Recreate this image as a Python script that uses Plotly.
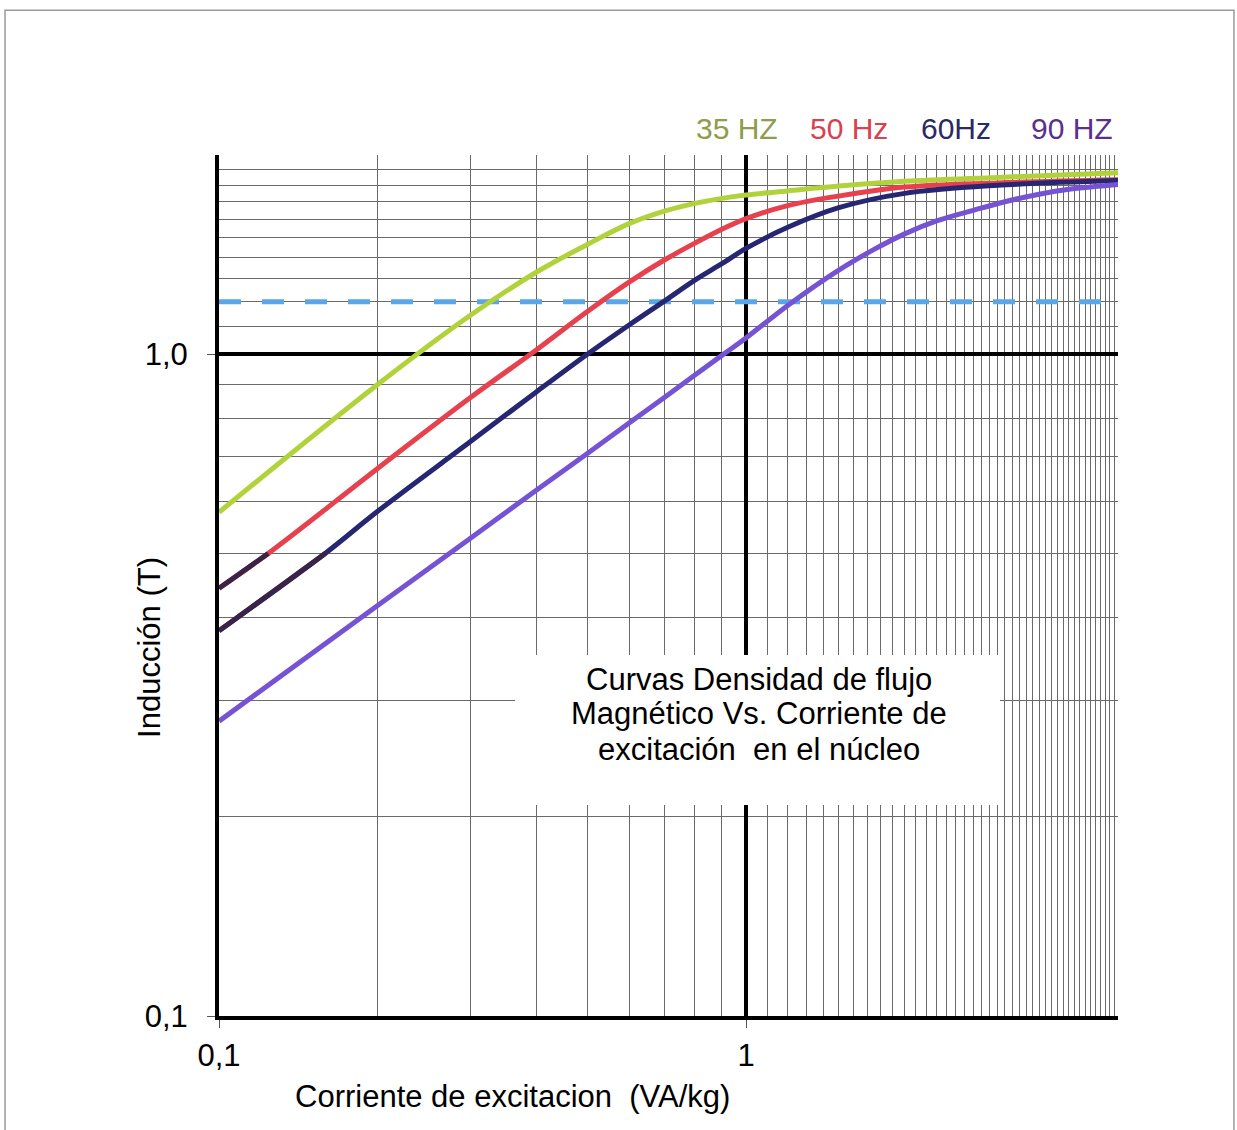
import plotly.graph_objects as go
import numpy as np

# ---- data (log-log chart) ----
x35 = [0.1, 0.2, 0.3, 0.4, 0.5, 0.6, 0.7, 0.8, 0.9, 1.0, 1.2, 1.5, 2.0, 3.0, 5.08]
y35 = [0.577, 0.90, 1.145, 1.33, 1.465, 1.575, 1.645, 1.69, 1.72, 1.74, 1.765, 1.795, 1.825, 1.85, 1.88]

x50 = [0.1, 0.124, 0.2, 0.3, 0.4, 0.5, 0.6, 0.7, 0.8, 0.9, 1.0, 1.2, 1.5, 2.0, 3.0, 5.08]
y50 = [0.443, 0.50, 0.672, 0.86, 1.015, 1.16, 1.285, 1.388, 1.472, 1.545, 1.603, 1.677, 1.734, 1.789, 1.815, 1.835]

x60 = [0.1, 0.159, 0.2, 0.3, 0.4, 0.5, 0.6, 0.7, 0.8, 0.9, 1.0, 1.2, 1.5, 2.0, 3.0, 5.08]
y60 = [0.382, 0.50, 0.579, 0.738, 0.877, 1.0, 1.107, 1.203, 1.294, 1.37, 1.445, 1.555, 1.665, 1.75, 1.80, 1.83]

x90 = [0.1, 0.2, 0.3, 0.4, 0.5, 0.6, 0.7, 0.8, 0.9, 1.0, 1.2, 1.5, 1.75, 2.0, 2.3, 2.7, 3.1, 3.6, 4.1, 5.08]
y90 = [0.279, 0.417, 0.527, 0.623, 0.708, 0.787, 0.86, 0.93, 0.996, 1.058, 1.185, 1.34, 1.44, 1.52, 1.59, 1.65, 1.70, 1.745, 1.775, 1.805]

ref_x = [0.1, 4.9]
ref_y = [1.2, 1.2]

series_names = ["35 HZ", "50 Hz", "60Hz", "90 HZ"]
label_colors = ["#8e9c4c", "#d8424f", "#2a2966", "#5a2f8f"]
line_colors = ["#b2d23c", "#e8414e", "#262673", "#7652d4"]

x_major = [0.1, 1]
x_major_text = ["0,1", "1"]
y_major = [0.1, 1]
y_major_text = ["0,1", "1,0"]
x_minor = [round(v, 1) for v in list(np.arange(0.2, 1.0, 0.1)) + list(np.arange(1.1, 5.05, 0.1))]
y_minor = [round(v, 1) for v in list(np.arange(0.2, 1.0, 0.1)) + list(np.arange(1.1, 2.05, 0.1))]

title_lines = ["Curvas Densidad de flujo", "Magnético Vs. Corriente de", "excitación  en el núcleo"]
x_title = "Corriente de excitacion  (VA/kg)"
y_title = "Inducción (T)"

FONT = "Arial, Liberation Sans, sans-serif"
FS = 31

fig = go.Figure()

# reference dashed line at 1.2 T
fig.add_trace(go.Scatter(x=ref_x, y=ref_y, mode="lines",
                         line=dict(color="#5aa6e8", width=5, dash="22px,21px"),
                         showlegend=False, hoverinfo="skip"))

curves = [(x35, y35), (x50, y50), (x60, y60), (x90, y90)]
for (xs, ys), c, n in zip(curves, line_colors, series_names):
    fig.add_trace(go.Scatter(x=xs, y=ys, mode="lines", name=n,
                             line=dict(color=c, width=5, shape="spline", smoothing=1.0),
                             showlegend=False))

# dark starting segments of 50 Hz and 60 Hz curves (as in the reference)
for xs, ys in [(x50, y50), (x60, y60)]:
    fig.add_trace(go.Scatter(x=xs[:2], y=ys[:2], mode="lines",
                             line=dict(color="#3a2346", width=5),
                             showlegend=False, hoverinfo="skip"))

annotations = []
label_x = [0.576, 0.7008, 0.8198, 0.9488]
for n, c, lx in zip(series_names, label_colors, label_x):
    annotations.append(dict(xref="paper", yref="paper", x=lx, y=1.031, text=n,
                            showarrow=False, font=dict(family=FONT, size=30, color=c),
                            xanchor="center", yanchor="middle"))
for t, ly in zip(title_lines, [0.3914, 0.3508, 0.3101]):
    annotations.append(dict(xref="paper", yref="paper", x=0.6007, y=ly, text=t,
                            showarrow=False, font=dict(family=FONT, size=FS, color="#000"),
                            xanchor="center", yanchor="middle"))
annotations.append(dict(xref="paper", yref="paper", x=0.327, y=-0.094, text=x_title,
                        showarrow=False, font=dict(family=FONT, size=FS, color="#000"),
                        xanchor="center", yanchor="middle"))
annotations.append(dict(xref="paper", yref="paper", x=-0.0768, y=0.4286, text=y_title,
                        showarrow=False, textangle=-90,
                        font=dict(family=FONT, size=FS, color="#000"),
                        xanchor="center", yanchor="middle"))

shapes = [
    # white box behind the title text
    dict(type="rect", xref="paper", yref="paper", x0=0.3293, x1=0.8687, y0=0.245, y1=0.4193,
         fillcolor="white", line=dict(width=0), layer="above"),
    # outer gray frame
    dict(type="rect", xref="paper", yref="paper", x0=-0.238, x1=1.129, y0=-0.16, y1=1.168,
         line=dict(color="#9a9a9a", width=1.5), fillcolor="rgba(0,0,0,0)", layer="above"),
]

axis_common = dict(
    showline=True, linecolor="black", linewidth=4, mirror=False,
    showgrid=True, gridcolor="black", gridwidth=4,
    ticks="outside", ticklen=8, tickwidth=1, tickcolor="#555",
    tickfont=dict(family=FONT, size=FS, color="#000"),
    zeroline=False,
)

fig.update_layout(
    width=1237, height=1130,
    margin=dict(l=219, r=119, t=155, b=114),
    paper_bgcolor="white", plot_bgcolor="white",
    xaxis=dict(type="log", range=[-1, np.log10(5.08)],
               tickmode="array", tickvals=x_major, ticktext=x_major_text,
               ticklabelstandoff=1,
               minor=dict(tickmode="array", tickvals=x_minor, showgrid=True,
                          gridcolor="#6a6a6a", gridwidth=1, ticks=""),
               **axis_common),
    yaxis=dict(type="log", range=[-1, np.log10(2.0)],
               tickmode="array", tickvals=y_major, ticktext=y_major_text,
               ticklabelstandoff=13,
               minor=dict(tickmode="array", tickvals=y_minor, showgrid=True,
                          gridcolor="#6a6a6a", gridwidth=1, ticks=""),
               **axis_common),
    annotations=annotations,
    shapes=shapes,
    showlegend=False,
)

fig.write_html("out.html")
